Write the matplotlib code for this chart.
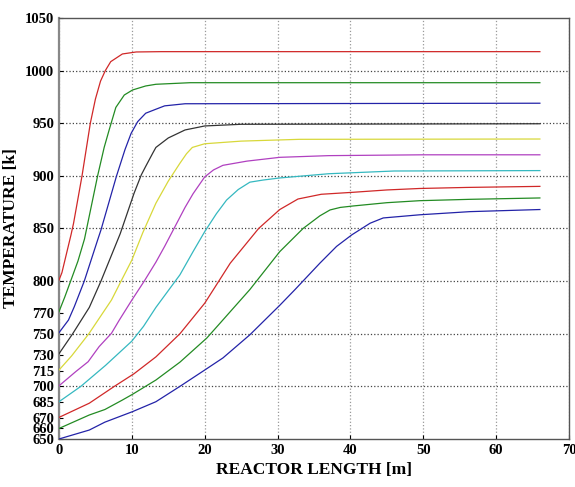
import numpy as np
import matplotlib
matplotlib.use("Agg")
import matplotlib.pyplot as plt

plt.rcParams['font.family'] = ['Liberation Serif', 'DejaVu Serif']
plt.rcParams['font.weight'] = 'bold'

# temperature profiles along the reactor
x1 = [0, 0.4, 1.65, 2.0, 3.16, 4.3, 5.0, 5.7, 6.36, 7.1, 8.7, 10.6, 14, 66]
t1 = [801, 808, 844, 855, 900, 950, 973, 990, 1000, 1008.5, 1015.8, 1017.7, 1018, 1018]

x2 = [0, 0.8, 1.65, 2.6, 3.5, 4.4, 5.3, 6.2, 6.9, 7.2, 7.8, 8.96, 10.1, 11.9, 13.3, 18, 66]
t2 = [771, 785, 801, 819, 840, 870, 900, 927, 944, 951, 965, 976.8, 981.6, 985.4, 987, 988.5, 988.5]

x3 = [0, 1.3, 2.1, 3.47, 5.3, 5.76, 7.9, 9.06, 9.9, 10.8, 11.9, 13.3, 14.5, 17.3, 66]
t3 = [751, 763, 775.7, 800, 839, 848.6, 900, 925, 940.4, 951.5, 959.5, 963.3, 966.5, 968.5, 969]

x4 = [0, 1.88, 4.16, 5.76, 8.4, 10.3, 11.3, 11.9, 12.9, 13.3, 15, 17.3, 20, 25, 66]
t4 = [731, 750, 775, 800, 845, 883.4, 901, 909, 922, 927, 936, 943.6, 947.4, 949, 949.5]

x5 = [0, 1.74, 4.1, 7.2, 8.3, 10, 11.5, 13.3, 15, 16.6, 17.5, 18.3, 20, 25, 33, 66]
t5 = [715.5, 729, 750, 782, 797, 820, 846, 874, 895, 912, 921, 927, 930.5, 933, 934.7, 935]

x6 = [0, 2.3, 4.0, 5.5, 7.2, 8.28, 10, 11.7, 13.3, 14.5, 17.3, 18.4, 20, 21.2, 22.5, 25.8, 30.3, 37, 50, 66]
t6 = [700.5, 714, 723.4, 737.7, 750.4, 763, 782, 800, 818, 833, 870, 883, 899, 905.6, 910, 914, 917.6, 919.2, 920, 920]

x7 = [0, 3.0, 6.4, 10, 11.6, 13.3, 16.6, 18.4, 20, 21.6, 23, 24.6, 26.2, 28, 30.3, 37, 46, 66]
t7 = [685.4, 700, 720, 743, 757, 775, 806, 828, 847, 864, 877, 887, 894, 896, 898, 902, 904.6, 905]

x8 = [0, 4.16, 7.6, 10.3, 13.3, 16.6, 20, 21.2, 23.5, 27.4, 30.3, 32.8, 36, 40.4, 45, 49.5, 56, 66]
t8 = [670.5, 684, 700, 712, 728, 750, 779, 792, 817, 850, 868, 878, 882.5, 884.4, 886.6, 888, 889, 890]

x9 = [0, 4.16, 6.3, 8.7, 10.1, 13.3, 16.6, 20.3, 22.1, 26.2, 30.3, 33.5, 35.8, 37.2, 38.6, 40.4, 45, 49.5, 56.4, 66]
t9 = [660, 672.8, 678, 687, 692.5, 706, 723, 746, 760, 792, 828, 850, 862, 867.6, 870, 871.4, 874.5, 876.4, 877.7, 879]

x10 = [0, 4.16, 6.3, 10.1, 13.3, 16.6, 20, 22.5, 26.2, 30.3, 32.4, 35.8, 38.1, 40.2, 42.7, 44.5, 49.5, 56.4, 66]
t10 = [650, 658.5, 666, 676, 685.4, 700, 715.5, 727, 749, 777, 792, 817, 833, 844, 855, 860, 863, 866, 868]

curves = [(x1, t1), (x2, t2), (x3, t3), (x4, t4), (x5, t5),
          (x6, t6), (x7, t7), (x8, t8), (x9, t9), (x10, t10)]
colors = ['#d02828', '#238b23', '#2323a8', '#333333', '#d8d83a',
          '#b040c0', '#35b8c0', '#d02828', '#238b23', '#2323a8']

yticks = [650, 660, 670, 685, 700, 715, 730, 750, 770, 800, 850, 900, 950, 1000, 1050]
ygrid = [700, 750, 800, 850, 900, 950, 1000]

fig = plt.figure(figsize=(5.75, 4.87), dpi=100, facecolor='white')
ax = fig.add_axes([0.1026, 0.0986, 0.887, 0.8645])

ax.grid(axis='x', color='#999999', linestyle=':', linewidth=0.9)
for g in ygrid:
    ax.axhline(g, color='#444444', linestyle=':', linewidth=0.9, zorder=1)

for (xx, tt), c in zip(curves, colors):
    ax.plot(xx, tt, color=c, linewidth=0.9, zorder=3)

ax.set_xlim(0, 70)
ax.set_ylim(650, 1050)
ax.set_xticks(range(0, 71, 10))
ax.set_yticks(yticks)
ax.tick_params(axis='both', direction='in', length=3, labelsize=10.5, width=0.8)
for lab in ax.get_xticklabels() + ax.get_yticklabels():
    lab.set_fontweight('bold')
for s in ax.spines.values():
    s.set_color('#555555')
    s.set_linewidth(1.0)
ax.spines['left'].set_color('#888888')
ax.spines['left'].set_linewidth(1.6)

ax.set_xlabel('REACTOR LENGTH [m]', fontsize=12.5, fontweight='bold', labelpad=4)
ax.set_ylabel('TEMPERATURE [k]', fontsize=12.5, fontweight='bold', labelpad=4)

fig.savefig('out.png', dpi=100)
